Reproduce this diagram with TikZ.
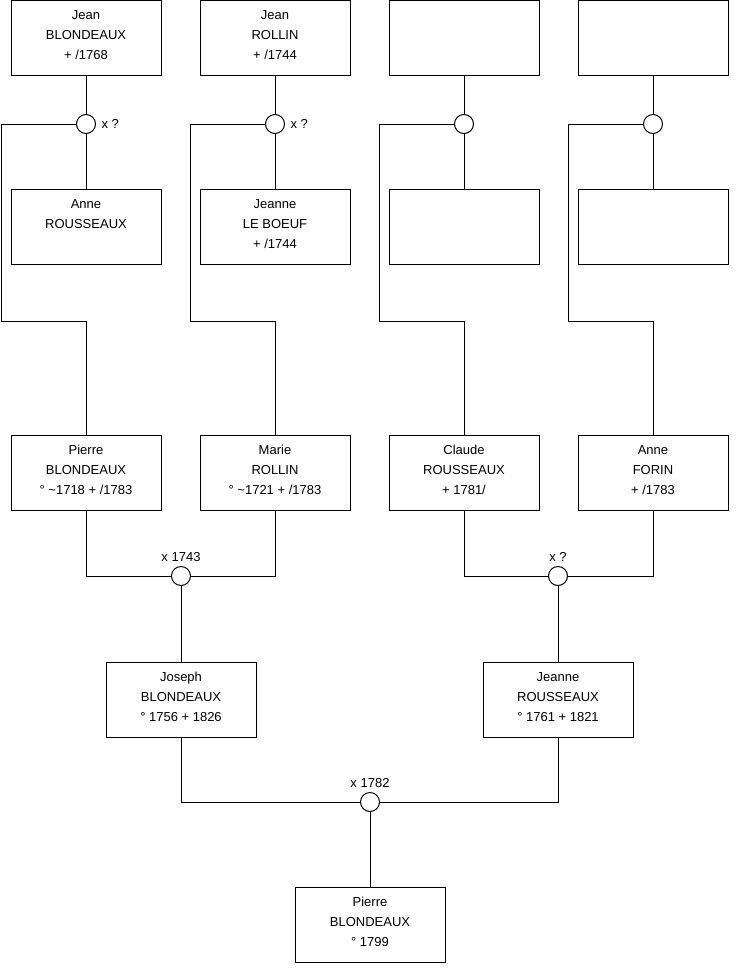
\documentclass[tikz,border=0pt]{standalone}
\usepackage{fontspec}
\setmainfont{Liberation Sans}
\begin{document}
\begin{tikzpicture}[x=1pt,y=-1pt,line width=1pt,
  person/.style={draw, rectangle, minimum width=150pt, minimum height=75pt, inner sep=0pt},
  txt/.style={anchor=north, align=center, inner sep=0pt, font=\fontsize{13}{20}\selectfont},
  union/.style={draw, circle, minimum size=19pt, inner sep=0pt, fill=white},
  ulab/.style={inner sep=0pt, font=\fontsize{13}{15}\selectfont}]
\useasboundingbox (0,0) rectangle (740,975);
% row 1
\node[person] (a1) at (86,38) {};
\node[person] (a2) at (275,38) {};
\node[person] (a3) at (464,38) {};
\node[person] (a4) at (653,38) {};
\node[txt] (ta1) at ([yshift=-5pt]a1.north) {\strut Jean\\BLONDEAUX\\+ /1768};
\node[txt] (ta2) at ([yshift=-5pt]a2.north) {\strut Jean\\ROLLIN\\+ /1744};
% row 2
\node[person] (b1) at (86,227) {};
\node[person] (b2) at (275,227) {};
\node[person] (b3) at (464,227) {};
\node[person] (b4) at (653,227) {};
\node[txt] (tb1) at ([yshift=-5pt]b1.north) {\strut Anne\\ROUSSEAUX};
\node[txt] (tb2) at ([yshift=-5pt]b2.north) {\strut Jeanne\\LE BOEUF\\+ /1744};
% unions row 1
\node[union] (u1) at (86,124) {};
\node[union] (u2) at (275,124) {};
\node[union] (u3) at (464,124) {};
\node[union] (u4) at (653,124) {};
\node[ulab, anchor=west] (lu1) at ([xshift=5pt]u1.east) {x ?};
\node[ulab, anchor=west] (lu2) at ([xshift=5pt]u2.east) {x ?};
% row 3
\node[person] (p1) at (86,472.5) {};
\node[person] (p2) at (275,472.5) {};
\node[person] (p3) at (464,472.5) {};
\node[person] (p4) at (653,472.5) {};
\node[txt] (tp1) at ([yshift=-5pt]p1.north) {\strut Pierre\\BLONDEAUX\\° \textasciitilde1718 + /1783};
\node[txt] (tp2) at ([yshift=-5pt]p2.north) {\strut Marie\\ROLLIN\\° \textasciitilde1721 + /1783};
\node[txt] (tp3) at ([yshift=-5pt]p3.north) {\strut Claude\\ROUSSEAUX\\+ 1781/};
\node[txt] (tp4) at ([yshift=-5pt]p4.north) {\strut Anne\\FORIN\\+ /1783};
% corner coordinates
\coordinate (k1) at (1,321);
\coordinate (k2) at (190,321);
\coordinate (k3) at (379,321);
\coordinate (k4) at (568,321);
% unions row 3
\node[union] (m1) at (181,576) {};
\node[union] (m2) at (558,576) {};
\node[ulab, anchor=south] (lm1) at ([yshift=4pt]m1.north) {x 1743};
\node[ulab, anchor=south] (lm2) at ([yshift=4pt]m2.north) {x ?};
% row 4
\node[person] (j1) at (181,699.5) {};
\node[person] (j2) at (558,699.5) {};
\node[txt] (tj1) at ([yshift=-5pt]j1.north) {\strut Joseph\\BLONDEAUX\\° 1756 + 1826};
\node[txt] (tj2) at ([yshift=-5pt]j2.north) {\strut Jeanne\\ROUSSEAUX\\° 1761 + 1821};
% final union
\node[union] (m3) at (370,802) {};
\node[ulab, anchor=south] (lm3) at ([yshift=4pt]m3.north) {x 1782};
\node[person] (z) at (370,925) {};
\node[txt] (tz) at ([yshift=-5pt]z.north) {\strut Pierre\\BLONDEAUX\\° 1799};
% connectors
\foreach \i in {1,2,3,4}{
  \draw (a\i.south) -- (u\i.north);
  \draw (u\i.south) -- (b\i.north);
  \draw (u\i.west) -| (k\i) -| (p\i.north);
}
\draw (p1.south) |- (m1.west);
\draw (p2.south) |- (m1.east);
\draw (p3.south) |- (m2.west);
\draw (p4.south) |- (m2.east);
\draw (m1.south) -- (j1.north);
\draw (m2.south) -- (j2.north);
\draw (j1.south) |- (m3.west);
\draw (j2.south) |- (m3.east);
\draw (m3.south) -- (z.north);
\end{tikzpicture}
\end{document}
